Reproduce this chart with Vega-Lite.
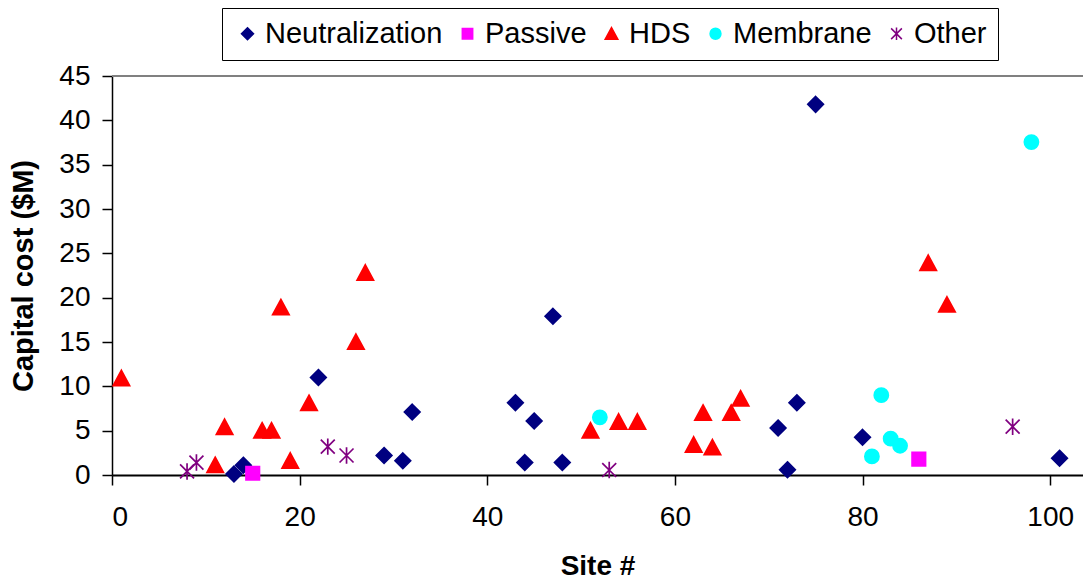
{
  "$schema": "https://vega.github.io/schema/vega-lite/v6.json",
  "width": 971,
  "height": 399,
  "autosize": {"type": "none"},
  "padding": {"left": 112, "top": 76, "right": 0, "bottom": 107},
  "background": "white",
  "config": {
    "view": {"stroke": null},
    "font": "Liberation Sans",
    "legend": {
      "orient": "none", "legendX": 110, "legendY": -68, "direction": "horizontal",
      "padding": 11, "strokeColor": "#000000", "fillColor": "#ffffff",
      "labelFont": "Liberation Sans", "labelFontSize": 29, "labelColor": "#000000", "labelOffset": 3, "labelLimit": 400,
      "columnPadding": 10, "symbolSize": 160, "symbolStrokeWidth": 1.5
    }
  },
  "data": {
    "values": [
      {"site": 13, "cost": 0.1, "type": "Neutralization"},
      {"site": 14, "cost": 1.1, "type": "Neutralization"},
      {"site": 22, "cost": 11.0, "type": "Neutralization"},
      {"site": 29, "cost": 2.2, "type": "Neutralization"},
      {"site": 31, "cost": 1.6, "type": "Neutralization"},
      {"site": 32, "cost": 7.1, "type": "Neutralization"},
      {"site": 43, "cost": 8.15, "type": "Neutralization"},
      {"site": 44, "cost": 1.4, "type": "Neutralization"},
      {"site": 45, "cost": 6.1, "type": "Neutralization"},
      {"site": 47, "cost": 17.9, "type": "Neutralization"},
      {"site": 48, "cost": 1.4, "type": "Neutralization"},
      {"site": 71, "cost": 5.3, "type": "Neutralization"},
      {"site": 72, "cost": 0.6, "type": "Neutralization"},
      {"site": 73, "cost": 8.15, "type": "Neutralization"},
      {"site": 75, "cost": 41.8, "type": "Neutralization"},
      {"site": 80, "cost": 4.25, "type": "Neutralization"},
      {"site": 101, "cost": 1.9, "type": "Neutralization"},
      {"site": 15, "cost": 0.2, "type": "Passive"},
      {"site": 86, "cost": 1.8, "type": "Passive"},
      {"site": 1, "cost": 10.9, "type": "HDS"},
      {"site": 11, "cost": 1.1, "type": "HDS"},
      {"site": 12, "cost": 5.4, "type": "HDS"},
      {"site": 16, "cost": 5.0, "type": "HDS"},
      {"site": 17, "cost": 5.0, "type": "HDS"},
      {"site": 18, "cost": 18.9, "type": "HDS"},
      {"site": 19, "cost": 1.6, "type": "HDS"},
      {"site": 21, "cost": 8.1, "type": "HDS"},
      {"site": 26, "cost": 15.0, "type": "HDS"},
      {"site": 27, "cost": 22.8, "type": "HDS"},
      {"site": 51, "cost": 5.0, "type": "HDS"},
      {"site": 54, "cost": 6.0, "type": "HDS"},
      {"site": 56, "cost": 6.0, "type": "HDS"},
      {"site": 62, "cost": 3.4, "type": "HDS"},
      {"site": 63, "cost": 7.0, "type": "HDS"},
      {"site": 64, "cost": 3.1, "type": "HDS"},
      {"site": 66, "cost": 7.0, "type": "HDS"},
      {"site": 67, "cost": 8.6, "type": "HDS"},
      {"site": 87, "cost": 23.9, "type": "HDS"},
      {"site": 89, "cost": 19.2, "type": "HDS"},
      {"site": 52, "cost": 6.5, "type": "Membrane"},
      {"site": 81, "cost": 2.1, "type": "Membrane"},
      {"site": 82, "cost": 9.0, "type": "Membrane"},
      {"site": 83, "cost": 4.1, "type": "Membrane"},
      {"site": 84, "cost": 3.3, "type": "Membrane"},
      {"site": 98, "cost": 37.55, "type": "Membrane"},
      {"site": 8, "cost": 0.4, "type": "Other"},
      {"site": 9, "cost": 1.4, "type": "Other"},
      {"site": 23, "cost": 3.2, "type": "Other"},
      {"site": 25, "cost": 2.2, "type": "Other"},
      {"site": 53, "cost": 0.56, "type": "Other"},
      {"site": 96, "cost": 5.45, "type": "Other"}
    ]
  },
  "layer": [
    {
      "mark": {"type": "point", "filled": true, "strokeWidth": 1.7, "opacity": 1, "clip": false, "size": 270},
      "encoding": {
        "x": {
          "field": "site", "type": "quantitative",
          "scale": {"domain": [0, 103.5], "nice": false, "zero": false},
          "axis": {
            "title": "Site #", "values": [0, 20, 40, 60, 80, 100], "grid": false,
            "domainColor": "#000000", "domainWidth": 2, "tickColor": "#000000", "tickWidth": 1.5, "tickSize": 10,
            "labelFont": "Liberation Sans", "labelFontSize": 28, "labelColor": "#000000", "labelPadding": 18,
            "titleFont": "Liberation Sans", "titleFontSize": 28, "titleFontWeight": "bold", "titleColor": "#000000", "titlePadding": 21
          }
        },
        "y": {
          "field": "cost", "type": "quantitative",
          "scale": {"domain": [0, 45], "nice": false, "zero": true},
          "axis": {
            "title": "Capital cost ($M)", "values": [0, 5, 10, 15, 20, 25, 30, 35, 40, 45], "grid": false,
            "domainColor": "#000000", "domainWidth": 1.5, "tickColor": "#000000", "tickWidth": 1.5, "tickSize": 10,
            "labelFont": "Liberation Sans", "labelFontSize": 28, "labelColor": "#000000", "labelPadding": 12,
            "titleFont": "Liberation Sans", "titleFontSize": 29, "titleFontWeight": "bold", "titleColor": "#000000", "titlePadding": 20
          }
        },
        "fill": {
          "field": "type", "type": "nominal",
          "scale": {"domain": ["Neutralization", "Passive", "HDS", "Membrane", "Other"], "range": ["#000080", "#FF00FF", "#FF0000", "#00FFFF", "#800080"]},
          "legend": {"title": null}
        },
        "stroke": {
          "field": "type", "type": "nominal",
          "scale": {"domain": ["Neutralization", "Passive", "HDS", "Membrane", "Other"], "range": ["#000080", "#FF00FF", "#FF0000", "#00FFFF", "#800080"]},
          "legend": {"title": null}
        },
        "shape": {
          "field": "type", "type": "nominal",
          "scale": {
            "domain": ["Neutralization", "Passive", "HDS", "Membrane", "Other"],
            "range": [
              "M0,-0.95L0.95,0L0,0.95L-0.95,0Z",
              "M-0.82,-0.82L0.82,-0.82L0.82,0.82L-0.82,0.82Z",
              "M0,-0.97L1,0.88L-1,0.88Z",
              "M0.86,0A0.86,0.86 0 1,1 -0.86,0A0.86,0.86 0 1,1 0.86,0Z",
              "M-0.85,-0.85L0.85,0.85M-0.85,0.85L0.85,-0.85M0,-1L0,1"
            ]
          },
          "legend": {"title": null}
        }
      }
    },
    {
      "mark": {"type": "rule", "color": "#808080", "strokeWidth": 2},
      "encoding": {"y": {"datum": 45, "type": "quantitative"}}
    }
  ]
}
